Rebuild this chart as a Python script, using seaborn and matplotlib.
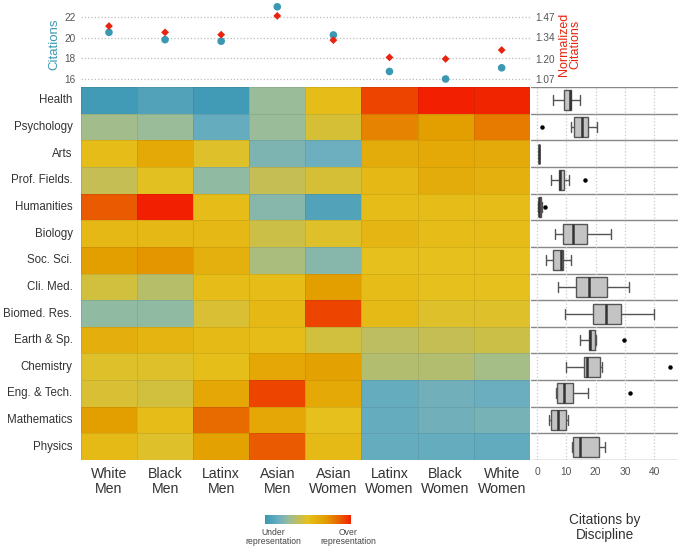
import matplotlib
matplotlib.use("Agg")
import matplotlib.pyplot as plt
from matplotlib.colors import LinearSegmentedColormap
import numpy as np
import pandas as pd
import seaborn as sns

# groups (columns) and disciplines (rows)
groups = ['White\nMen', 'Black\nMen', 'Latinx\nMen', 'Asian\nMen', 'Asian\nWomen',
          'Latinx\nWomen', 'Black\nWomen', 'White\nWomen']
disciplines = ['Health', 'Psychology', 'Arts', 'Prof. Fields.', 'Humanities', 'Biology',
               'Soc. Sci.', 'Cli. Med.', 'Biomed. Res.', 'Earth & Sp.', 'Chemistry',
               'Eng. & Tech.', 'Mathematics', 'Physics']

# top panel: mean citations and normalized citations per group
citations = [20.5, 19.8, 19.65, 22.95, 20.25, 16.75, 16.03, 17.1]
norm_citations = [1.41, 1.37, 1.355, 1.475, 1.32, 1.21, 1.20, 1.257]

# representation score (-1 = under, +1 = over), one list per discipline
rep = {
    'Health':        [-0.95, -0.85, -0.95, -0.45, 0.05, 0.85, 1.00, 0.98],
    'Psychology':    [-0.40, -0.45, -0.72, -0.45, -0.10, 0.55, 0.40, 0.60],
    'Arts':          [0.05, 0.30, -0.05, -0.60, -0.68, 0.25, 0.30, 0.28],
    'Prof. Fields.': [-0.20, -0.02, -0.50, -0.20, -0.10, 0.10, 0.25, 0.20],
    'Humanities':    [0.75, 1.00, 0.05, -0.55, -0.85, 0.05, 0.05, 0.05],
    'Biology':       [0.10, 0.10, 0.10, -0.15, -0.05, 0.12, 0.05, 0.05],
    'Soc. Sci.':     [0.40, 0.45, 0.20, -0.35, -0.55, 0.00, 0.00, 0.00],
    'Cli. Med.':     [-0.12, -0.28, 0.05, 0.05, 0.40, 0.05, 0.00, 0.00],
    'Biomed. Res.':  [-0.50, -0.50, -0.08, 0.10, 0.85, 0.08, -0.05, -0.05],
    'Earth & Sp.':   [0.22, 0.15, 0.08, 0.05, -0.12, -0.25, -0.20, -0.15],
    'Chemistry':     [-0.05, -0.05, 0.03, 0.32, 0.38, -0.30, -0.30, -0.38],
    'Eng. & Tech.':  [-0.08, -0.12, 0.32, 0.85, 0.30, -0.72, -0.66, -0.70],
    'Mathematics':   [0.40, 0.05, 0.68, 0.32, 0.00, -0.72, -0.66, -0.63],
    'Physics':       [0.08, -0.05, 0.38, 0.75, 0.08, -0.72, -0.72, -0.75],
}

# citations per discipline (boxplot)
disc_cites = {
    'Health':        [5.6, 9.0, 9.3, 11.2, 11.6, 11.7, 11.8, 14.5],
    'Psychology':    [1.8, 11.7, 12.9, 14.8, 15.6, 17.2, 17.6, 20.6],
    'Arts':          [0.6, 0.6, 0.6, 0.6, 0.6, 0.6, 0.6, 0.6],
    'Prof. Fields.': [4.7, 7.2, 7.5, 7.7, 8.1, 8.8, 10.8, 16.2],
    'Humanities':    [0.4, 0.6, 0.65, 0.75, 0.85, 1.1, 1.6, 2.8],
    'Biology':       [6.0, 8.2, 9.0, 11.8, 13.0, 16.0, 20.0, 25.1],
    'Soc. Sci.':     [3.0, 5.0, 5.8, 8.0, 8.6, 8.8, 9.6, 11.6],
    'Cli. Med.':     [7.3, 12.0, 13.5, 16.5, 18.7, 22.0, 30.0, 31.5],
    'Biomed. Res.':  [9.7, 18.0, 19.5, 22.8, 24.6, 27.0, 33.0, 40.0],
    'Earth & Sp.':   [14.6, 17.2, 17.8, 18.0, 18.4, 19.8, 20.0, 29.6],
    'Chemistry':     [9.9, 15.5, 16.0, 16.6, 17.4, 21.4, 22.0, 45.4],
    'Eng. & Tech.':  [6.5, 6.6, 6.9, 8.6, 9.8, 10.5, 17.3, 31.6],
    'Mathematics':   [4.0, 4.4, 4.7, 6.8, 7.6, 9.6, 10.2, 10.4],
    'Physics':       [12.0, 12.0, 12.2, 14.2, 15.4, 20.5, 22.9, 23.2],
}

sns.set_style("white")
plt.rcParams['font.family'] = ['Liberation Sans', 'DejaVu Sans']

TEAL = '#3a98b2'
RED = '#e8240e'
GREY = '#555555'

cmap = LinearSegmentedColormap.from_list('rep', [
    (0.0, '#3a98b4'), (0.15, '#6aaec0'), (0.27, '#98bc9c'), (0.5, '#e6c01c'),
    (0.7, '#e3a000'), (0.85, '#e86800'), (1.0, '#f22000')])

fig = plt.figure(figsize=(6.8, 5.5), dpi=100)
ax_hm = fig.add_axes([0.119, 0.1636, 0.660, 0.678])
ax_top = fig.add_axes([0.119, 0.8418, 0.660, 0.1546])
ax_box = fig.add_axes([0.781, 0.1636, 0.216, 0.678])
cax = fig.add_axes([0.390, 0.047, 0.126, 0.016])

# --- heatmap
hm = pd.DataFrame([rep[d] for d in disciplines], index=disciplines, columns=groups)
sns.heatmap(hm, ax=ax_hm, cmap=cmap, vmin=-1, vmax=1, linewidths=0.5,
            linecolor=(0, 0, 0, 0.08), cbar_ax=cax,
            cbar_kws={'orientation': 'horizontal'})
ax_hm.tick_params(length=0)
ax_hm.set_xticklabels(groups, rotation=0, fontsize=10.2, color='#333333',
                      linespacing=1.05)
ax_hm.set_yticklabels(disciplines, rotation=0, fontsize=8.3, color='#333333')
ax_hm.tick_params(axis='x', pad=5)
ax_hm.tick_params(axis='y', pad=6)
ax_hm.set_xlabel('')
ax_hm.set_ylabel('')

cb = ax_hm.collections[0].colorbar
cb.set_ticks([])
cb.outline.set_visible(False)
cax.text(0.09, -0.45, 'Under\nrepresentation', transform=cax.transAxes,
         ha='center', va='top', fontsize=6.2, color='#444444', linespacing=1.0)
cax.text(0.97, -0.45, 'Over\nrepresentation', transform=cax.transAxes,
         ha='center', va='top', fontsize=6.2, color='#444444', linespacing=1.0)

# --- top scatter
top = pd.DataFrame({'group': groups, 'cit': citations, 'norm': norm_citations})
sns.scatterplot(data=top, x='group', y='cit', ax=ax_top, color=TEAL, s=30,
                edgecolor='none', zorder=3)
ax_top.set_xlim(-0.5, len(groups) - 0.5)
lo, hi = 15.26, 23.41
ax_top.set_ylim(lo, hi)
ax_top.set_yticks([16, 18, 20, 22])
ax_top.grid(axis='y', ls=':', color='#bbbbbb', lw=0.9)
ax_top.set_xticks([])
ax_top.set_xlabel('')
ax_top.set_ylabel('Citations', color=TEAL, fontsize=9.5, labelpad=3)
ax_top.tick_params(axis='y', length=0, labelsize=7.2, labelcolor=GREY, pad=4)
for s in ax_top.spines.values():
    s.set_visible(False)

ax_top2 = ax_top.twinx()
sns.scatterplot(data=top, x='group', y='norm', ax=ax_top2, color=RED, s=16,
                marker='D', edgecolor='none', zorder=4)
scale = 0.40 / 6
ax_top2.set_ylim(1.07 + (lo - 16) * scale, 1.07 + (hi - 16) * scale)
ax_top2.set_yticks([1.07, 1.20, 1.34, 1.47])
ax_top2.set_yticklabels(['1.07', '1.20', '1.34', '1.47'])
ax_top2.set_ylabel('Normalized\nCitations', color=RED, fontsize=9, labelpad=2,
                   linespacing=1.0)
ax_top2.tick_params(axis='y', length=0, labelsize=7.2, labelcolor=GREY, pad=4)
ax_top2.set_xlim(-0.5, len(groups) - 0.5)
ax_top2.set_xticks([])
for s in ax_top2.spines.values():
    s.set_visible(False)

# --- boxplot per discipline
long = pd.DataFrame([(d, v) for d in disciplines for v in disc_cites[d]],
                    columns=['discipline', 'cites'])
sns.boxplot(data=long, x='cites', y='discipline', order=disciplines, ax=ax_box,
            color='#c4c4c4', width=0.75, linewidth=1.0, linecolor='#555555',
            medianprops={'color': '#333333', 'linewidth': 1.8},
            flierprops={'marker': 'o', 'markersize': 2.2,
                        'markerfacecolor': 'black', 'markeredgecolor': 'black'})
ax_box.set_ylim(len(disciplines) - 0.5, -0.5)
ax_box.set_xlim(-2.05, 48.1)
ax_box.set_xticks([0, 10, 20, 30, 40])
ax_box.grid(axis='x', ls=':', color='#c8c8c8', lw=0.9)
for i in range(len(disciplines) + 1):
    ax_box.axhline(i - 0.5, color='#888888', lw=1.0, zorder=0.5)
ax_box.set_yticks([])
ax_box.set_ylabel('')
ax_box.set_xlabel('Citations by\nDiscipline', fontsize=9.8, color='#333333',
                  labelpad=26, linespacing=1.1)
ax_box.tick_params(axis='x', length=0, labelsize=7.4, labelcolor=GREY, pad=5)
for s in ax_box.spines.values():
    s.set_visible(False)

fig.savefig('out.png', dpi=100)
